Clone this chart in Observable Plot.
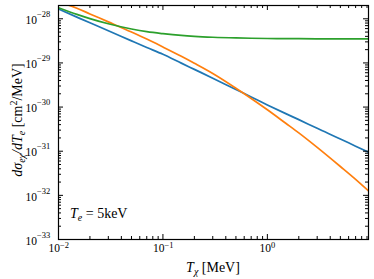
<!DOCTYPE html>
<html><head><meta charset="utf-8">
<script src="https://cdn.jsdelivr.net/npm/d3@7"></script>
<script src="https://cdn.jsdelivr.net/npm/@observablehq/plot@0.6"></script>
<style>
body{margin:0;background:#fff;}
#chart{position:absolute;left:0;top:0;}
</style></head><body><div id="chart"></div>
<script>
// ---- data ----
const Tchi = [0.01, 0.015, 0.02, 0.03, 0.05, 0.07, 0.1, 0.15, 0.2, 0.3, 0.5, 0.7, 1, 1.5, 2, 3, 5, 7, 9.3];
const sigmaBlue = [1.66e-28, 1.09e-28, 8.1e-29, 5.36e-29, 3.16e-29, 2.24e-29, 1.57e-29, 9.9e-30, 7.15e-30, 4.52e-30, 2.5e-30, 1.7e-30, 1.12e-30, 7.1e-31, 5.2e-31, 3.3e-31, 1.9e-31, 1.3e-31, 9.5e-32];
const sigmaOrange = [2.4e-28, 1.74e-28, 1.29e-28, 8.5e-29, 5.0e-29, 3.47e-29, 2.29e-29, 1.41e-29, 9.8e-30, 5.75e-30, 2.67e-30, 1.57e-30, 8.7e-31, 4.3e-31, 2.6e-31, 1.22e-31, 4.5e-32, 2.3e-32, 1.26e-32];
const sigmaGreen = [1.78e-28, 1.26e-28, 1.01e-28, 7.7e-29, 5.86e-29, 5.1e-29, 4.6e-29, 4.19e-29, 4.0e-29, 3.82e-29, 3.68e-29, 3.62e-29, 3.58e-29, 3.56e-29, 3.54e-29, 3.52e-29, 3.51e-29, 3.505e-29, 3.5e-29];

const xMajor = [0.01, 0.1, 1];
const xExp = ["−2", "−1", "0"];
const yMajor = [1e-33, 1e-32, 1e-31, 1e-30, 1e-29, 1e-28];
const yExp = ["−33", "−32", "−31", "−30", "−29", "−28"];
const xDomain = [0.01, 9.3];
const yDomain = [1e-33, 2e-28];

// ---- layout ----
const W = 374, H = 279, mL = 58, mR = 6, mT = 5, mB = 40;
const plotW = W - mL - mR, plotH = H - mT - mB;
const majLen = 5, minLen = 3;
const font = "Liberation Serif";

const minors = (majors, dom) => majors.flatMap(d => d3.range(2, 10).map(k => d * k)).filter(v => v > dom[0] && v < dom[1]);
const xMinor = minors(xMajor, xDomain);
const yMinor = minors(yMajor, yDomain);

const rows = (ys) => Tchi.map((t, i) => ({T: t, s: ys[i]}));
const tickStyle = {stroke: "black", strokeWidth: 1, strokeOpacity: 1};
const lineStyle = {x: "T", y: "s", strokeWidth: 1.7, curve: "monotone-x", clip: true};

const marks = [
  Plot.line(rows(sigmaBlue), {...lineStyle, stroke: "#1f77b4"}),
  Plot.line(rows(sigmaOrange), {...lineStyle, stroke: "#ff7f0e"}),
  Plot.line(rows(sigmaGreen), {...lineStyle, stroke: "#2ca02c"}),
  // inward ticks on all four sides
  Plot.ruleX(xMajor, {x: d => d, insetTop: plotH - majLen, ...tickStyle}),
  Plot.ruleX(xMajor, {x: d => d, insetBottom: plotH - majLen, ...tickStyle}),
  Plot.ruleX(xMinor, {x: d => d, insetTop: plotH - minLen, ...tickStyle}),
  Plot.ruleX(xMinor, {x: d => d, insetBottom: plotH - minLen, ...tickStyle}),
  Plot.ruleY(yMajor, {y: d => d, insetRight: plotW - majLen, ...tickStyle}),
  Plot.ruleY(yMajor, {y: d => d, insetLeft: plotW - majLen, ...tickStyle}),
  Plot.ruleY(yMinor, {y: d => d, insetRight: plotW - minLen, ...tickStyle}),
  Plot.ruleY(yMinor, {y: d => d, insetLeft: plotW - minLen, ...tickStyle}),
  Plot.frame({stroke: "black", strokeWidth: 1.2}),
  // y tick labels: "10" + superscript exponent
  Plot.text(yMajor, {y: d => d, frameAnchor: "left", text: () => "10", textAnchor: "end", dx: -21.5, dy: 1.5, fontSize: 11.5, fontFamily: font, fill: "black"}),
  Plot.text(yMajor, {y: d => d, frameAnchor: "left", text: (d, i) => yExp[i], textAnchor: "start", dx: -21.5, dy: -4.5, fontSize: 8.5, fontFamily: font, fill: "black"}),
  // x tick labels
  ...xMajor.map((v, i) => {
    const ew = xExp[i].length > 1 ? 9 : 4.5;
    return [
      Plot.text([v], {x: d => d, frameAnchor: "bottom", text: () => "10", textAnchor: "end", lineAnchor: "top", dx: 6 - ew / 2, dy: 4, fontSize: 11.5, fontFamily: font, fill: "black"}),
      Plot.text([v], {x: d => d, frameAnchor: "bottom", text: () => xExp[i], textAnchor: "start", lineAnchor: "top", dx: 6 - ew / 2, dy: 2.3, fontSize: 8.5, fontFamily: font, fill: "black"})
    ];
  }).flat()
];

const svg = Plot.plot({
  width: W, height: H,
  marginLeft: mL, marginRight: mR, marginTop: mT, marginBottom: mB,
  x: {type: "log", domain: xDomain, axis: null},
  y: {type: "log", domain: yDomain, axis: null},
  style: {background: "white"},
  marks
});

const s = d3.select(svg);
function rich(g, parts) {
  for (const p of parts) {
    const t = g.append("tspan").text(p.t);
    if (p.i) t.attr("font-style", "italic");
    if (p.fs) t.attr("font-size", p.fs);
    if (p.dy) t.attr("dy", p.dy);
  }
}
// y label
const yl = s.append("text")
  .attr("transform", "translate(22,120) rotate(-90)")
  .attr("text-anchor", "middle").attr("font-family", font).attr("font-size", 14).attr("fill", "black");
rich(yl, [
  {t: "dσ", i: 1}, {t: "eχ", i: 1, fs: 10, dy: 3}, {t: "/dT", i: 1, dy: -3},
  {t: "e", i: 1, fs: 10, dy: 3}, {t: " [cm", dy: -3}, {t: "2", fs: 10, dy: -5}, {t: "/MeV]", dy: 5}
]);
// x label
const xl = s.append("text")
  .attr("x", 213).attr("y", 272)
  .attr("text-anchor", "middle").attr("font-family", font).attr("font-size", 14).attr("fill", "black");
rich(xl, [{t: "T", i: 1}, {t: "χ", i: 1, fs: 10, dy: 3}, {t: " [MeV]", dy: -3}]);
// annotation
const an = s.append("text")
  .attr("x", 70).attr("y", 218).attr("text-anchor", "start")
  .attr("font-family", font).attr("font-size", 14).attr("fill", "black");
rich(an, [{t: "T", i: 1}, {t: "e", i: 1, fs: 10, dy: 3}, {t: " = 5keV", dy: -3}]);

document.getElementById("chart").appendChild(svg);
</script>
</body></html>
